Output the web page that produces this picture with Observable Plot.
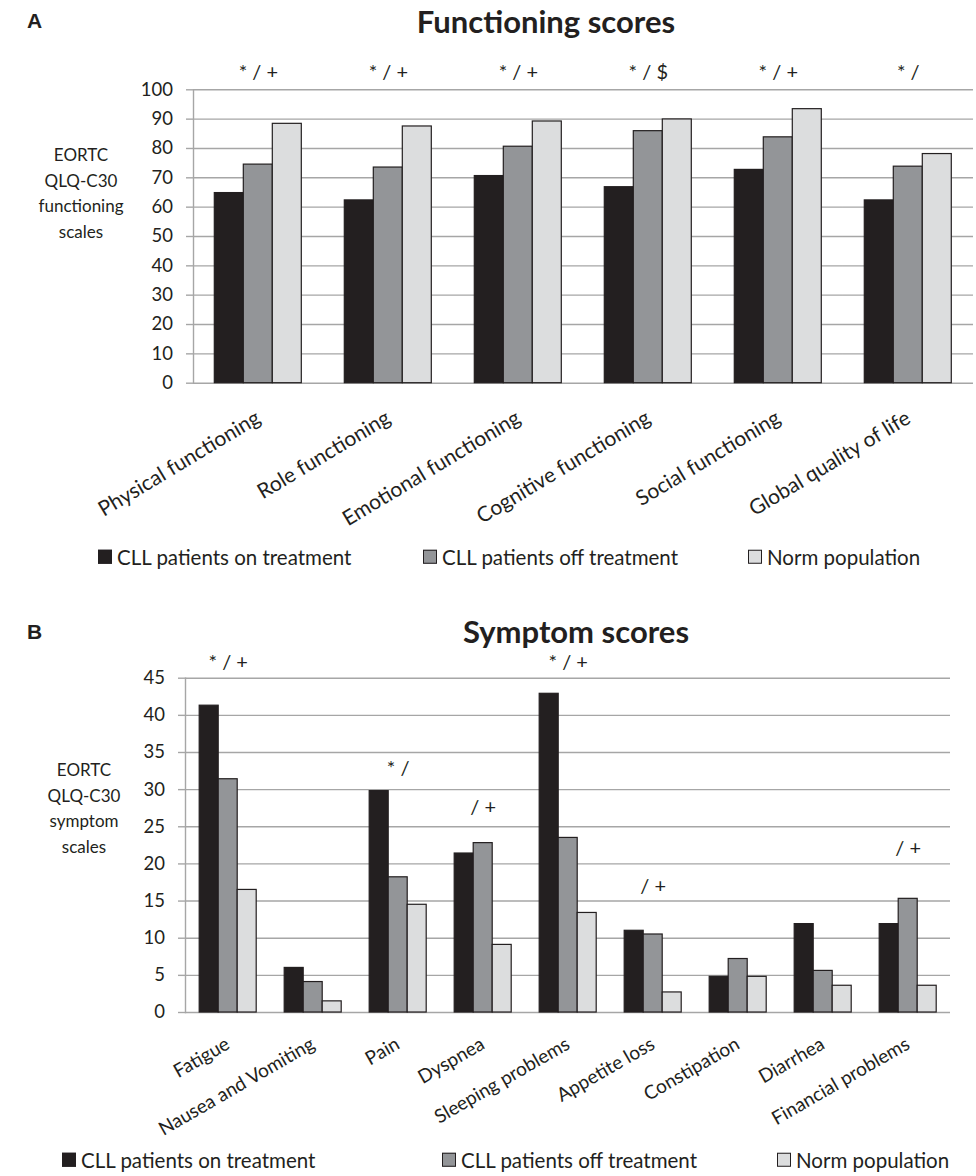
<!DOCTYPE html>
<html>
<head>
<meta charset="utf-8">
<script src="https://cdn.jsdelivr.net/npm/d3@7"></script>
<script src="https://cdn.jsdelivr.net/npm/@observablehq/plot@0.6"></script>
<style>
  body { margin: 0; background: #fff; }
  #page { position: relative; width: 976px; height: 1176px; font-family: Lato, "Open Sans", sans-serif; color: #231f20; overflow: hidden; }
  .abs { position: absolute; white-space: nowrap; }
  .panel { font-family: "Liberation Sans", Arial, sans-serif; font-weight: bold; font-size: 21px; line-height: 1; }
  .title { font-weight: bold; font-size: 31px; line-height: 1; transform: translate(-50%, -50%); }
  .ylab { font-size: 17px; line-height: 25.5px; text-align: center; transform: translateX(-50%); white-space: pre; }
  .legend { font-size: 20.5px; line-height: 1; display: flex; align-items: center; transform: translateY(-50%); }
  .sw { display: inline-block; width: 12px; height: 12px; border: 1px solid #231f20; margin-right: 5px; }
  svg { position: absolute; left: 0; overflow: visible; }
</style>
</head>
<body>
<div id="page"></div>
<script>
// Groups compared in both panels
const series = ["CLL patients on treatment", "CLL patients off treatment", "Norm population"];
const seriesFill = ["#231f20", "#939598", "#dcddde"];

// Panel A: functioning scales (higher is better)
const functionCategories = ["Physical functioning", "Role functioning", "Emotional functioning",
  "Cognitive functioning", "Social functioning", "Global quality of life"];
const functionOnTreatment = [64.8, 62.3, 70.6, 66.8, 72.7, 62.3];
const functionOffTreatment = [74.5, 73.5, 80.6, 85.9, 83.8, 73.8];
const functionNorm = [88.4, 87.5, 89.2, 89.9, 93.4, 78.1];
const functionSig = ["* / +", "* / +", "* / +", "* / $", "* / +", "* /"];
const functionSigAt = [106, 106, 106, 106, 106, 106];
const functionTicks = [0, 10, 20, 30, 40, 50, 60, 70, 80, 90, 100];

// Panel B: symptom scales (higher is worse)
const symptomCategories = ["Fatigue", "Nausea and Vomiting", "Pain", "Dyspnea", "Sleeping problems",
  "Appetite loss", "Constipation", "Diarrhea", "Financial problems"];
const symptomOnTreatment = [41.3, 6.0, 29.8, 21.4, 42.9, 11.0, 4.8, 11.9, 11.9];
const symptomOffTreatment = [31.4, 4.1, 18.2, 22.8, 23.5, 10.5, 7.2, 5.6, 15.3];
const symptomNorm = [16.5, 1.5, 14.5, 9.1, 13.4, 2.7, 4.8, 3.6, 3.6];
const symptomSig = ["* / +", "", "* /", "/ +", "* / +", "/ +", "", "", "/ +"];
const symptomSigAt = [47.1, null, 32.8, 27.6, 47.1, 16.9, null, null, 22.0];
const symptomTicks = [0, 5, 10, 15, 20, 25, 30, 35, 40, 45];

function rowsFor(categories, columns) {
  return categories.flatMap((cat, i) => series.map((s, j) => ({cat, series: s, value: columns[j][i]})));
}
function sigRowsFor(categories, labels, at) {
  return categories.map((cat, i) => ({cat, series: series[1], label: labels[i], at: at[i]}))
    .filter(d => d.label);
}

function groupedChart({categories, columns, labels, labelAt, ticks, yMax, marginLeft, marginRight,
                       marginTop, plotHeight, marginBottom, rotate, labelSize, tickPadding}) {
  const grid = "#a6a6a6";
  return Plot.plot({
    width: 976,
    height: marginTop + plotHeight + marginBottom,
    marginLeft, marginRight, marginTop, marginBottom,
    style: {fontFamily: "Lato, 'Open Sans', sans-serif", fontSize: "18.5px", color: "#231f20", background: "transparent", overflow: "visible"},
    fx: {domain: categories, padding: 0, label: null},
    x: {domain: series, paddingInner: 0, paddingOuter: 0.727, axis: null},
    y: {domain: [0, yMax], label: null},
    color: {domain: series, range: seriesFill},
    marks: [
      Plot.gridY(ticks, {stroke: grid, strokeOpacity: 1, strokeWidth: 1.4}),
      Plot.frame({anchor: "left", facetAnchor: "left", stroke: grid, strokeWidth: 1.4}),
      Plot.axisY(ticks, {tickSize: 7, tickPadding: 13.5, stroke: grid, strokeWidth: 1.4, fill: "#231f20", label: null}),
      Plot.barY(rowsFor(categories, columns), {
        fx: "cat", x: "series", y: "value", fill: "series",
        stroke: "#231f20", strokeWidth: 1.2
      }),
      Plot.text(sigRowsFor(categories, labels, labelAt), {
        fx: "cat", x: "series", y: "at", text: "label", fontSize: 20, fill: "#231f20"
      }),
      Plot.axisFx({anchor: "bottom", tickRotate: rotate, tickSize: 0, tickPadding,
                   fontSize: labelSize, fill: "#231f20", label: null})
    ]
  });
}

function legend(page, top, xs) {
  series.forEach((s, i) => {
    const item = document.createElement("div");
    item.className = "abs legend";
    item.style.left = xs[i] + "px";
    item.style.top = top + "px";
    const sw = document.createElement("span");
    sw.className = "sw";
    sw.style.background = seriesFill[i];
    item.appendChild(sw);
    item.appendChild(document.createTextNode(s));
    page.appendChild(item);
  });
}

function addText(page, cls, text, left, top) {
  const el = document.createElement("div");
  el.className = "abs " + cls;
  el.textContent = text;
  el.style.left = left + "px";
  el.style.top = top + "px";
  page.appendChild(el);
}

const page = document.getElementById("page");

// Panel A
addText(page, "panel", "A", 27, 10);
addText(page, "title", "Functioning scores", 546, 21);
addText(page, "ylab", "EORTC\nQLQ-C30\nfunctioning\nscales", 81, 142);
const chartA = groupedChart({
  categories: functionCategories,
  columns: [functionOnTreatment, functionOffTreatment, functionNorm],
  labels: functionSig, labelAt: functionSigAt, ticks: functionTicks, yMax: 100,
  marginLeft: 190.7, marginRight: 1.3, marginTop: 29.3, plotHeight: 293.4, marginBottom: 150,
  rotate: -31, labelSize: 21, tickPadding: 33
});
chartA.style.top = "60px";
page.appendChild(chartA);
legend(page, 557, [98, 423, 748]);

// Panel B
addText(page, "panel", "B", 27, 621);
addText(page, "title", "Symptom scores", 576, 631);
addText(page, "ylab", "EORTC\nQLQ-C30\nsymptom\nscales", 84, 757);
const chartB = groupedChart({
  categories: symptomCategories,
  columns: [symptomOnTreatment, symptomOffTreatment, symptomNorm],
  labels: symptomSig, labelAt: symptomSigAt, ticks: symptomTicks, yMax: 45,
  marginLeft: 182.8, marginRight: 24.5, marginTop: 32.7, plotHeight: 334.3, marginBottom: 110,
  rotate: -30, labelSize: 19, tickPadding: 30
});
chartB.style.top = "645px";
page.appendChild(chartB);
legend(page, 1160, [62, 442, 777]);
</script>
</body>
</html>
